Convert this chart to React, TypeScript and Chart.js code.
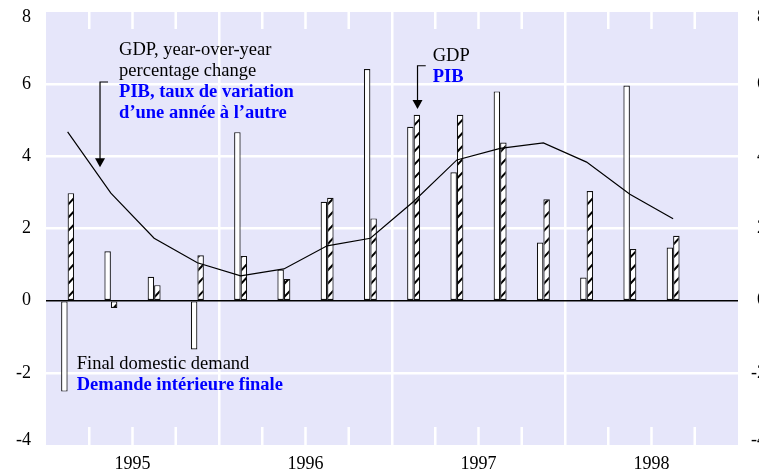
import React, { useEffect, useRef } from 'react';
import { Chart, registerables } from 'chart.js';

Chart.register(...registerables);

// ---- Data (quarterly, 1995 Q1 .. 1998 Q4) ----
const quarters = [
  '1995 Q1', '1995 Q2', '1995 Q3', '1995 Q4',
  '1996 Q1', '1996 Q2', '1996 Q3', '1996 Q4',
  '1997 Q1', '1997 Q2', '1997 Q3', '1997 Q4',
  '1998 Q1', '1998 Q2', '1998 Q3', '1998 Q4',
];
const finalDomesticDemand = [-2.52, 1.37, 0.66, -1.35, 4.67, 0.86, 2.74, 6.42, 4.82, 3.56, 5.8, 1.61, 0.64, 5.96, 1.47, null];
const gdpQuarterly = [2.98, -0.2, 0.43, 1.26, 1.24, 0.6, 2.85, 2.28, 5.15, 5.15, 4.38, 2.81, 3.04, 1.43, 1.8, null];
const gdpYearOverYear = [4.68, 2.98, 1.73, 1.05, 0.69, 0.88, 1.52, 1.73, 2.75, 3.9, 4.22, 4.37, 3.84, 2.95, 2.27, null];
const yearLabels = ['1995', '1996', '1997', '1998'];
const yMin = -4;
const yMax = 8;
const yStep = 2;

const FONT = "'Liberation Serif', 'Times New Roman', Times, serif";
const PANEL = '#E6E6FA';
const BLUE = '#0000FF';

const CANVAS_W = 766;
const CANVAS_H = 472;

export default function App() {
  const ref = useRef<HTMLCanvasElement>(null);

  useEffect(() => {
    const canvas = ref.current;
    if (!canvas) return;

    const panelPlugin = {
      id: 'panelPlugin',
      beforeDraw(chart: any) {
        const { ctx, chartArea: a } = chart;
        ctx.save();
        ctx.fillStyle = PANEL;
        ctx.fillRect(a.left, a.top, a.right - a.left, a.bottom - a.top);
        ctx.restore();
      },
      beforeDatasetsDraw(chart: any) {
        const { ctx, chartArea: a } = chart;
        const xs = chart.scales.xYears;
        ctx.save();
        ctx.strokeStyle = '#FFFFFF';
        ctx.lineWidth = 2.5;
        ctx.beginPath();
        for (let q = 1; q < quarters.length; q++) {
          if (q % 4 === 0) continue;
          const px = xs.getPixelForValue(q);
          ctx.moveTo(px, a.top);
          ctx.lineTo(px, a.top + 17);
          ctx.moveTo(px, a.bottom - 18);
          ctx.lineTo(px, a.bottom);
        }
        ctx.stroke();
        ctx.restore();
      },
      afterDatasetDraw(chart: any, args: any) {
        if (args.index !== 2) return;
        const { ctx } = chart;
        const els = args.meta.data;
        ctx.save();
        for (const el of els) {
          const p = el.getProps(['x', 'y', 'base', 'width'], true);
          if (p.y == null || isNaN(p.y)) continue;
          const left = p.x - p.width / 2;
          const right = p.x + p.width / 2;
          const top = Math.min(p.y, p.base);
          const bottom = Math.max(p.y, p.base);
          ctx.save();
          ctx.beginPath();
          ctx.rect(left + 1, top + 1, right - left - 2, bottom - top - 2);
          ctx.clip();
          ctx.strokeStyle = '#000';
          ctx.lineWidth = 2;
          ctx.beginPath();
          for (let yk = p.base - 6; yk > top - 10; yk -= 13.2) {
            ctx.moveTo(left, yk + 3.5);
            ctx.lineTo(right, yk - 3.5);
          }
          if (p.y > p.base) {
            for (let yk = p.base + 6; yk < bottom + 10; yk += 13.2) {
              ctx.moveTo(left, yk + 3.5);
              ctx.lineTo(right, yk - 3.5);
            }
          }
          ctx.stroke();
          ctx.restore();
        }
        ctx.restore();
      },
      afterDraw(chart: any) {
        const { ctx } = chart;
        const xs = chart.scales.xYears;
        const ys = chart.scales.y;
        const X = (v: number) => xs.getPixelForValue(v);
        const Y = (v: number) => ys.getPixelForValue(v);
        const lh = 21;
        const regular = `18.5px ${FONT}`;
        const bold = `bold 18.5px ${FONT}`;
        ctx.save();
        ctx.textBaseline = 'alphabetic';
        ctx.textAlign = 'left';

        const drawLines = (x: number, y: number, lines: [string, boolean][]) => {
          lines.forEach(([t, isFr], i) => {
            ctx.font = isFr ? bold : regular;
            ctx.fillStyle = isFr ? BLUE : '#000';
            ctx.fillText(t, x, y + i * lh);
          });
        };

        drawLines(X(1.69), Y(6.81), [
          ['GDP, year-over-year', false],
          ['percentage change', false],
          ['PIB, taux de variation', true],
          ['d\u2019une ann\u00e9e \u00e0 l\u2019autre', true],
        ]);
        drawLines(X(8.94), Y(6.64), [
          ['GDP', false],
          ['PIB', true],
        ]);
        drawLines(X(0.71), Y(-1.9), [
          ['Final domestic demand', false],
          ['Demande int\u00e9rieure finale', true],
        ]);

        const arrow = (x0: number, x1: number, yTop: number, yTip: number) => {
          const px0 = X(x0), px1 = X(x1), py = Y(yTop), tip = Y(yTip);
          ctx.strokeStyle = '#000';
          ctx.lineWidth = 1.2;
          ctx.beginPath();
          ctx.moveTo(px0, py);
          ctx.lineTo(px1, py);
          ctx.lineTo(px1, tip - 8);
          ctx.stroke();
          ctx.fillStyle = '#000';
          ctx.beginPath();
          ctx.moveTo(px1 - 5, tip - 9);
          ctx.lineTo(px1 + 5, tip - 9);
          ctx.lineTo(px1, tip);
          ctx.closePath();
          ctx.fill();
        };
        arrow(1.434, 1.249, 6.06, 3.7);
        arrow(8.78, 8.59, 6.51, 5.31);
        ctx.restore();
      },
    };

    // edge labels sit slightly inside the panel, as in the original
    const yTickFont = (c: any) => {
      const v = c && c.tick ? c.tick.value : NaN;
      const edge = v === yMin || v === yMax;
      return { family: FONT, size: 18, lineHeight: edge ? '10px' : 1.2 };
    };
    const yTickLabel = (v: any) => {
      const n = Number(v);
      const s = String(n);
      if (n === yMax) return ['', s];
      if (n === yMin) return [s, ''];
      return s;
    };
    const zeroPad = (s: any) => {
      s.paddingTop = 0;
      s.paddingBottom = 0;
      s.paddingLeft = 0;
      s.paddingRight = 0;
    };

    const chart = new Chart(canvas, {
      type: 'bar',
      data: {
        labels: quarters,
        datasets: [
          {
            type: 'line',
            label: 'GDP, year-over-year percentage change',
            data: gdpYearOverYear as any,
            borderColor: '#000',
            borderWidth: 1.2,
            pointRadius: 0,
            tension: 0,
            fill: false,
            order: 0,
            xAxisID: 'x',
            yAxisID: 'y',
          } as any,
          {
            type: 'bar',
            label: 'Final domestic demand',
            data: finalDomesticDemand as any,
            backgroundColor: '#FFFFFF',
            borderColor: '#111',
            borderWidth: 1.2,
            borderSkipped: false,
            categoryPercentage: 0.3,
            barPercentage: 1,
            order: 1,
            xAxisID: 'x',
            yAxisID: 'y',
          } as any,
          {
            type: 'bar',
            label: 'GDP',
            data: gdpQuarterly as any,
            backgroundColor: '#FFFFFF',
            borderColor: '#111',
            borderWidth: 1.2,
            borderSkipped: false,
            categoryPercentage: 0.3,
            barPercentage: 1,
            order: 1,
            xAxisID: 'x',
            yAxisID: 'y',
          } as any,
        ],
      },
      options: {
        animation: false,
        responsive: false,
        maintainAspectRatio: false,
        devicePixelRatio: 1,
        layout: { padding: { top: 12, left: 0, right: 0, bottom: 0 } },
        plugins: {
          legend: { display: false },
          tooltip: { enabled: false },
        },
        scales: {
          x: {
            type: 'category',
            display: false,
            offset: true,
            grid: { display: false },
          },
          xYears: {
            type: 'linear',
            position: 'bottom',
            min: 0,
            max: quarters.length,
            offset: false,
            border: { display: false },
            grid: {
              offset: false,
              drawTicks: false,
              color: (c: any) =>
                c.tick && c.tick.value % 4 === 0 && c.tick.value > 0 && c.tick.value < quarters.length
                  ? '#FFFFFF'
                  : 'rgba(0,0,0,0)',
              lineWidth: 2.5,
            },
            ticks: {
              stepSize: 1,
              autoSkip: false,
              maxTicksLimit: 100,
              maxRotation: 0,
              minRotation: 0,
              padding: 8,
              color: '#000',
              font: { family: FONT, size: 18 },
              callback: (v: any) => {
                const i = (Number(v) - 2) / 4;
                return Number.isInteger(i) && yearLabels[i] ? yearLabels[i] : '';
              },
            },
            afterFit: (s: any) => {
              s.height = 27;
              zeroPad(s);
            },
          } as any,
          y: {
            type: 'linear',
            position: 'left',
            min: yMin,
            max: yMax,
            border: { display: false },
            grid: {
              drawTicks: false,
              color: (c: any) => {
                const v = c.tick ? c.tick.value : NaN;
                if (v === 0) return '#000';
                if (v === yMin || v === yMax) return 'rgba(0,0,0,0)';
                return '#FFFFFF';
              },
              lineWidth: (c: any) => (c.tick && c.tick.value === 0 ? 1.5 : 2.5),
            },
            ticks: {
              stepSize: yStep,
              padding: 15,
              color: '#000',
              font: yTickFont,
              callback: yTickLabel,
            },
            afterFit: (s: any) => {
              s.width = 46;
              zeroPad(s);
            },
          },
          y2: {
            type: 'linear',
            position: 'right',
            min: yMin,
            max: yMax,
            border: { display: false },
            grid: { display: false, drawTicks: false },
            ticks: {
              stepSize: yStep,
              padding: 13,
              crossAlign: 'far',
              color: '#000',
              font: yTickFont,
              callback: yTickLabel,
            },
            afterFit: (s: any) => {
              s.width = CANVAS_W - 738;
              zeroPad(s);
            },
          },
        } as any,
      },
      plugins: [panelPlugin],
    });

    return () => {
      chart.destroy();
    };
  }, []);

  return (
    <div
      style={{
        position: 'fixed',
        left: 0,
        top: 0,
        width: 759,
        height: 472,
        overflow: 'hidden',
        background: '#FFFFFF',
      }}
    >
      <canvas
        ref={ref}
        width={CANVAS_W}
        height={CANVAS_H}
        style={{ display: 'block', width: CANVAS_W, height: CANVAS_H }}
      />
    </div>
  );
}
